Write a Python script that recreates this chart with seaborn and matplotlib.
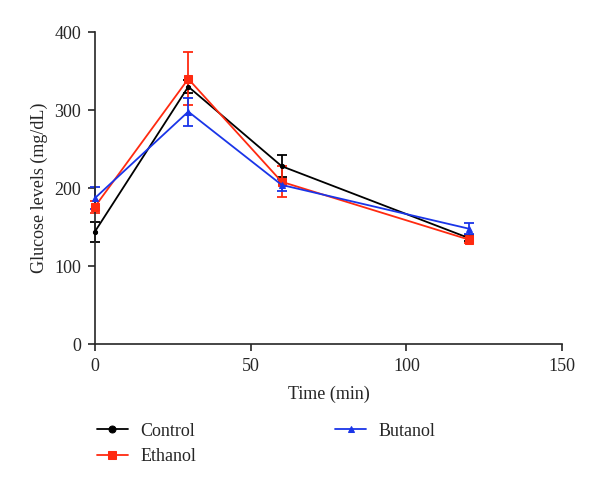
import numpy as np
import pandas as pd
import matplotlib
matplotlib.use("Agg")
import matplotlib.pyplot as plt
import seaborn as sns

# dados
tempo = [0, 30, 60, 120]
grupos = ["Control", "Ethanol", "Butanol"]
control = [144, 330, 228, 136]
control_err = [13, 8, 14, 4]
ethanol = [176, 340, 208, 134]
ethanol_err = [8, 34, 20, 4]
butanol = [187, 298, 204, 148]
butanol_err = [14, 18, 8, 7]

cores = {"Control": "#000000", "Ethanol": "#ff2a10", "Butanol": "#1a35e8"}
marcadores = {"Control": "o", "Ethanol": "s", "Butanol": "^"}
tamanhos = {"Control": 3, "Ethanol": 6, "Butanol": 4}

df = pd.DataFrame({
    "Time": tempo * 3,
    "Glucose": control + ethanol + butanol,
    "Err": control_err + ethanol_err + butanol_err,
    "Group": [g for g in grupos for _ in tempo],
})

sns.set_style("ticks")
plt.rcParams["font.family"] = ["Liberation Serif", "DejaVu Serif"]

fig = plt.figure(figsize=(6, 4.86), dpi=100)
ax = fig.add_axes([0.158, 0.292, 0.779, 0.642])

for g in grupos:
    d = df[df["Group"] == g]
    ax.errorbar(d["Time"], d["Glucose"], yerr=d["Err"], fmt="none",
                ecolor=cores[g], elinewidth=1.3, capsize=3.5, capthick=1.3,
                clip_on=False, zorder=2)
    sns.lineplot(data=d, x="Time", y="Glucose", ax=ax, color=cores[g],
                 marker=marcadores[g], markersize=tamanhos[g],
                 markeredgecolor=cores[g], linewidth=1.3, label=g,
                 clip_on=False, zorder=3)

ax.set_xlim(0, 150)
ax.set_ylim(0, 400)
ax.set_xticks([0, 50, 100, 150])
ax.set_yticks([0, 100, 200, 300, 400])
ax.set_xlabel("Time (min)", fontsize=13, labelpad=8)
ax.set_ylabel("Glucose levels (mg/dL)", fontsize=13, labelpad=4)
ax.tick_params(labelsize=13, direction="out", length=5, width=1.2, pad=5)
for s in ["left", "bottom"]:
    ax.spines[s].set_linewidth(1.2)
sns.despine(ax=ax)

leg = ax.legend(loc="upper left", bbox_to_anchor=(-0.03, -0.2), ncol=2,
                frameon=False, fontsize=13, handlelength=1.7, handletextpad=0.7,
                columnspacing=7.7, labelspacing=0.45)
leg.legend_handles[0].set_markersize(5)

fig.savefig("out.png", dpi=100)
